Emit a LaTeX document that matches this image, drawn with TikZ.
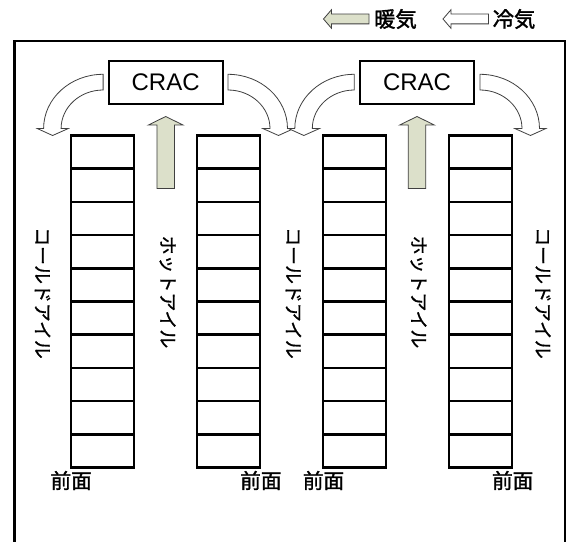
\documentclass[tikz,border=0pt]{standalone}
\usepackage{fontspec}
\setmainfont{Liberation Sans}
\newfontfamily\jp{Noto Sans CJK JP}
\newfontfamily\jpa[FakeBold=0.8]{Noto Sans CJK JP}
\newfontfamily\jpb[FakeBold=1.6]{Noto Sans CJK JP}
\usetikzlibrary{calc}
\definecolor{warmfill}{HTML}{DCE0CA}
\definecolor{arrline}{HTML}{404040}
\tikzset{
  roomline/.style={line width=2pt},
  rackbox/.style={draw, line width=2pt, inner sep=0pt, outer sep=0pt,
    minimum width=47.25pt, minimum height=249pt},
  cellline/.style={line width=2pt},
  cracbox/.style={draw, line width=1.5pt, inner sep=0pt, outer sep=0pt,
    minimum width=85.5pt, minimum height=31.7pt, font=\fontsize{18}{20}\selectfont},
  aisle/.style={inner sep=0pt, font=\jpa\fontsize{14.2}{16}\selectfont, rotate=-90},
  front/.style={inner sep=0pt, font=\jpb\fontsize{15.5}{17}\selectfont},
  legtext/.style={inner sep=0pt, font=\jpb\fontsize{16}{18}\selectfont},
  coldarr/.style={draw=arrline, line width=0.6pt, fill=white, line join=miter},
  warmarr/.style={draw=arrline, line width=0.6pt, fill=warmfill, line join=miter},
}
\newcommand\coldcurve{(0,74.3) arc[start angle=270, end angle=180, x radius=59.5, y radius=54.3]
  -- (-65.7,128.6) -- (-50.5,135.5) -- (-35,128.6) -- (-42,128.6)
  arc[start angle=180, end angle=270, x radius=42, y radius=38.6] -- cycle}
\newcommand\hotshape{(-8.8,188.4) -- (-8.8,125) -- (-17.3,125) -- (0,116.5)
  -- (17.3,125) -- (8.8,125) -- (8.8,188.4) -- cycle}
\newcommand\legshape{(0,0) -- (8,-9.3) -- (8,-4.9) -- (45.5,-4.9) -- (45.5,4.9)
  -- (8,4.9) -- (8,9.3) -- cycle}
\begin{document}
\begin{tikzpicture}[x=0.75pt, y=-0.75pt]
\clip (0,0) rectangle (568,542);
\fill[white] (0,0) rectangle (568,542);

% room outline
\draw[roomline] (14.5,560) -- (14.5,41) -- (565,41) -- (565,560);

% legend
\begin{scope}[shift={(323.5,19)}] \draw[warmarr] \legshape; \end{scope}
\node[legtext] (lwarm) at (395.5,19) {暖気};
\begin{scope}[shift={(443,19)}] \draw[coldarr] \legshape; \end{scope}
\node[legtext] (lcold) at (514,19) {冷気};

% CRAC units
\node[cracbox] (crac1) at (165.6,82.6) {CRAC};
\node[cracbox] (crac2) at (417,82.6) {CRAC};

% cold air curved arrows
\begin{scope}[shift={(103.1,0)}] \draw[coldarr] \coldcurve; \end{scope}
\begin{scope}[shift={(228,0)}, xscale=-1] \draw[coldarr] \coldcurve; \end{scope}
\begin{scope}[shift={(354.3,0)}] \draw[coldarr] \coldcurve; \end{scope}
\begin{scope}[shift={(480,0)}, xscale=-1] \draw[coldarr] \coldcurve; \end{scope}

% hot air arrows
\begin{scope}[shift={(165.7,0)}] \draw[warmarr] \hotshape; \end{scope}
\begin{scope}[shift={(417,0)}] \draw[warmarr] \hotshape; \end{scope}

% racks
\foreach \n/\x in {rack1/102.5, rack2/228.5, rack3/354.5, rack4/480.5}{
  \node[rackbox] (\n) at (\x,301.5) {};
  \foreach \i in {1,...,9}{
    \draw[cellline] ($(\n.north west)!\i/10!(\n.south west)$) -- ($(\n.north east)!\i/10!(\n.south east)$);
  }
}

% aisle labels
\node[aisle] (cold1) at (42.6,293) {コールドアイル};
\node[aisle] (hot1) at (167.6,292) {ホットアイル};
\node[aisle] (cold2) at (293.5,293) {コールドアイル};
\node[aisle] (hot2) at (418.5,292) {ホットアイル};
\node[aisle] (cold3) at (543,293) {コールドアイル};

% front labels
\node[front] (f1) at (71.2,480.5) {前面};
\node[front] (f2) at (260.9,480.5) {前面};
\node[front] (f3) at (323.5,480.5) {前面};
\node[front] (f4) at (512.7,480.5) {前面};
\end{tikzpicture}
\end{document}
